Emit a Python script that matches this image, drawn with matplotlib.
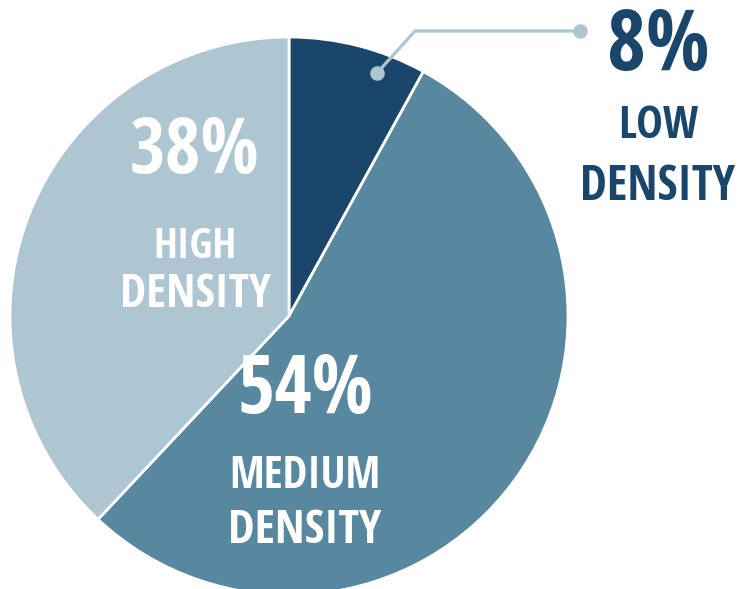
import matplotlib
matplotlib.use("Agg")
import matplotlib.pyplot as plt
from matplotlib import font_manager as fm
from matplotlib.textpath import TextPath

# Share of land by density class
categories = ["LOW\nDENSITY", "MEDIUM\nDENSITY", "HIGH\nDENSITY"]
shares = [8, 54, 38]
colors = ["#1a466b", "#58889f", "#aec5d2"]

W, H = 738, 589
fig = plt.figure(figsize=(W / 100, H / 100), dpi=100)
ax = fig.add_axes([0, 0, 1, 1])
ax.set_xlim(0, W)
ax.set_ylim(0, H)
ax.set_aspect("equal")
ax.axis("off")

cx, cy, r = 289, H - 316, 279
ax.pie(shares, colors=colors, startangle=90, counterclock=False,
       center=(cx, cy), radius=r,
       wedgeprops=dict(edgecolor="white", linewidth=2.0))
ax.set_xlim(0, W)
ax.set_ylim(0, H)

SANS = ("Roboto", "Open Sans", "Lato", "Inter", "Noto Sans",
        "Liberation Sans", "DejaVu Sans")


def _weight(entry):
    w = entry.weight
    if isinstance(w, str):
        w = fm.weight_dict.get(w, 400)
    return w


def narrowest_bold_font():
    """Pick the most condensed bold grotesque face that is installed."""
    best, best_r = None, None
    for entry in fm.fontManager.ttflist:
        name = entry.name
        if not name.startswith(SANS):
            continue
        if any(k in name for k in ("Serif", "Mono", "CJK", "Math", "Display")):
            continue
        if _weight(entry) < 700:
            continue
        if not entry.fname.lower().endswith((".ttf", ".otf")):
            continue
        try:
            prop = fm.FontProperties(fname=entry.fname)
            w = TextPath((0, 0), "DENSITY", size=100, prop=prop).get_extents().width
            h = TextPath((0, 0), "H", size=100, prop=prop).get_extents().height
        except Exception:
            continue
        ratio = w / h
        if best_r is None or ratio < best_r:
            best, best_r = entry.fname, ratio
    if best is None:
        return fm.FontProperties(family="DejaVu Sans", weight="bold")
    return fm.FontProperties(fname=best)


base_prop = narrowest_bold_font()
PT = 100 / 72  # pixels per point at 100 dpi


def fitted_size(text, width_px, cap_px):
    p = TextPath((0, 0), text, size=100, prop=base_prop).get_extents()
    cap = TextPath((0, 0), "H", size=100, prop=base_prop).get_extents().height
    s_w = width_px / (p.width / 100 * PT)
    s_h = cap_px / (cap / 100 * PT)
    return min(s_w, s_h)


def put(x, baseline, text, color, width_px, cap_px):
    prop = base_prop.copy()
    prop.set_size(fitted_size(text, width_px, cap_px))
    ax.text(x, H - baseline, text, ha="center", va="baseline",
            color=color, fontproperties=prop)


# (centre x, baselines, box widths, cap heights, colour) for each label block
blocks = [
    (658, (70, 138, 200), (97, 77, 152), (62, 41, 40), "#1a466b"),
    (305, (413, 488, 543), (130, 146, 150), (68, 41, 43), "white"),
    (195, (173, 258, 307), (125, 78, 148), (65, 38, 40), "white"),
]

for share, cat, (x, bases, widths, caps, col) in zip(shares, categories, blocks):
    lines = [f"{share}%"] + cat.split("\n")
    for line, b, w, c in zip(lines, bases, widths, caps):
        put(x, b, line, col, w, c)

# Leader line for the small slice
lead = "#aec5d2"
ax.plot([377, 415, 580], [H - 73, H - 31, H - 31], color=lead, lw=2.3,
        solid_capstyle="round", zorder=5)
ax.scatter([377, 580], [H - 73, H - 31], s=110, color=lead, zorder=6,
           linewidths=0)

fig.savefig("out.png", dpi=100)
